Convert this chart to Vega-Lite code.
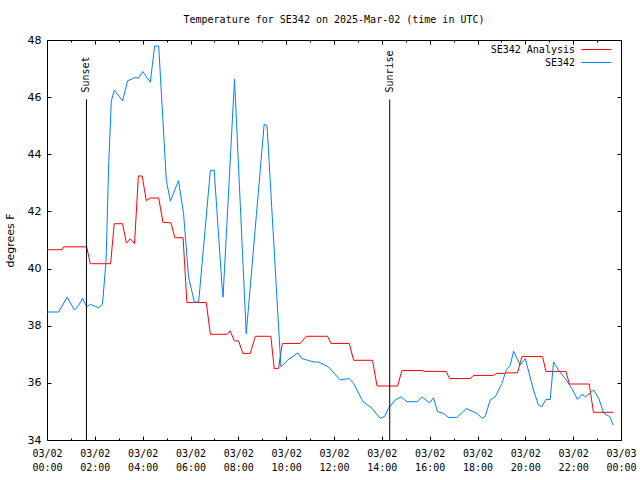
{
  "$schema": "https://vega.github.io/schema/vega-lite/v6.json",
  "width": 574,
  "height": 400,
  "autosize": {"type": "none"},
  "padding": {"left": 47, "top": 40, "right": 19, "bottom": 40},
  "background": "white",
  "title": {
    "text": "Temperature for SE342 on 2025-Mar-02 (time in UTC)",
    "font": "DejaVu Sans Mono",
    "fontSize": 10,
    "fontWeight": "normal",
    "color": "black",
    "anchor": "middle",
    "offset": 9
  },
  "config": {
    "view": {"stroke": "black", "strokeWidth": 1},
    "axis": {"domain": false, "grid": false, "tickColor": "black", "labelColor": "black", "titleColor": "black"}
  },
  "datasets": {
    "temps": [
      {"hour": 0, "temp": 40.66, "series": "SE342 Analysis"},
      {"hour": 0.63, "temp": 40.66, "series": "SE342 Analysis"},
      {"hour": 0.69, "temp": 40.76, "series": "SE342 Analysis"},
      {"hour": 1.66, "temp": 40.76, "series": "SE342 Analysis"},
      {"hour": 1.81, "temp": 40.17, "series": "SE342 Analysis"},
      {"hour": 2.66, "temp": 40.17, "series": "SE342 Analysis"},
      {"hour": 2.81, "temp": 41.57, "series": "SE342 Analysis"},
      {"hour": 3.16, "temp": 41.57, "series": "SE342 Analysis"},
      {"hour": 3.32, "temp": 40.89, "series": "SE342 Analysis"},
      {"hour": 3.48, "temp": 41.04, "series": "SE342 Analysis"},
      {"hour": 3.66, "temp": 40.87, "series": "SE342 Analysis"},
      {"hour": 3.82, "temp": 43.24, "series": "SE342 Analysis"},
      {"hour": 3.98, "temp": 43.24, "series": "SE342 Analysis"},
      {"hour": 4.15, "temp": 42.38, "series": "SE342 Analysis"},
      {"hour": 4.32, "temp": 42.47, "series": "SE342 Analysis"},
      {"hour": 4.67, "temp": 42.47, "series": "SE342 Analysis"},
      {"hour": 4.85, "temp": 41.62, "series": "SE342 Analysis"},
      {"hour": 5.18, "temp": 41.6, "series": "SE342 Analysis"},
      {"hour": 5.35, "temp": 41.08, "series": "SE342 Analysis"},
      {"hour": 5.69, "temp": 41.08, "series": "SE342 Analysis"},
      {"hour": 5.85, "temp": 38.81, "series": "SE342 Analysis"},
      {"hour": 6.66, "temp": 38.81, "series": "SE342 Analysis"},
      {"hour": 6.83, "temp": 37.7, "series": "SE342 Analysis"},
      {"hour": 7.53, "temp": 37.7, "series": "SE342 Analysis"},
      {"hour": 7.66, "temp": 37.82, "series": "SE342 Analysis"},
      {"hour": 7.83, "temp": 37.47, "series": "SE342 Analysis"},
      {"hour": 8.01, "temp": 37.47, "series": "SE342 Analysis"},
      {"hour": 8.19, "temp": 37.03, "series": "SE342 Analysis"},
      {"hour": 8.5, "temp": 37.03, "series": "SE342 Analysis"},
      {"hour": 8.71, "temp": 37.63, "series": "SE342 Analysis"},
      {"hour": 9.36, "temp": 37.63, "series": "SE342 Analysis"},
      {"hour": 9.5, "temp": 36.5, "series": "SE342 Analysis"},
      {"hour": 9.68, "temp": 36.5, "series": "SE342 Analysis"},
      {"hour": 9.84, "temp": 37.38, "series": "SE342 Analysis"},
      {"hour": 10.59, "temp": 37.38, "series": "SE342 Analysis"},
      {"hour": 10.84, "temp": 37.63, "series": "SE342 Analysis"},
      {"hour": 11.73, "temp": 37.63, "series": "SE342 Analysis"},
      {"hour": 11.87, "temp": 37.38, "series": "SE342 Analysis"},
      {"hour": 12.64, "temp": 37.38, "series": "SE342 Analysis"},
      {"hour": 12.82, "temp": 36.79, "series": "SE342 Analysis"},
      {"hour": 13.61, "temp": 36.79, "series": "SE342 Analysis"},
      {"hour": 13.8, "temp": 35.89, "series": "SE342 Analysis"},
      {"hour": 14.66, "temp": 35.89, "series": "SE342 Analysis"},
      {"hour": 14.84, "temp": 36.43, "series": "SE342 Analysis"},
      {"hour": 15.72, "temp": 36.43, "series": "SE342 Analysis"},
      {"hour": 15.77, "temp": 36.4, "series": "SE342 Analysis"},
      {"hour": 16.69, "temp": 36.4, "series": "SE342 Analysis"},
      {"hour": 16.83, "temp": 36.15, "series": "SE342 Analysis"},
      {"hour": 17.7, "temp": 36.15, "series": "SE342 Analysis"},
      {"hour": 17.83, "temp": 36.26, "series": "SE342 Analysis"},
      {"hour": 18.67, "temp": 36.26, "series": "SE342 Analysis"},
      {"hour": 18.81, "temp": 36.33, "series": "SE342 Analysis"},
      {"hour": 19.12, "temp": 36.33, "series": "SE342 Analysis"},
      {"hour": 19.23, "temp": 36.35, "series": "SE342 Analysis"},
      {"hour": 19.67, "temp": 36.35, "series": "SE342 Analysis"},
      {"hour": 19.86, "temp": 36.92, "series": "SE342 Analysis"},
      {"hour": 20.72, "temp": 36.92, "series": "SE342 Analysis"},
      {"hour": 20.86, "temp": 36.4, "series": "SE342 Analysis"},
      {"hour": 21.7, "temp": 36.4, "series": "SE342 Analysis"},
      {"hour": 21.84, "temp": 35.96, "series": "SE342 Analysis"},
      {"hour": 22.67, "temp": 35.96, "series": "SE342 Analysis"},
      {"hour": 22.85, "temp": 34.97, "series": "SE342 Analysis"},
      {"hour": 23.68, "temp": 34.97, "series": "SE342 Analysis"},
      {"hour": 0, "temp": 38.48, "series": "SE342"},
      {"hour": 0.49, "temp": 38.48, "series": "SE342"},
      {"hour": 0.84, "temp": 39.0, "series": "SE342"},
      {"hour": 1.15, "temp": 38.55, "series": "SE342"},
      {"hour": 1.32, "temp": 38.71, "series": "SE342"},
      {"hour": 1.49, "temp": 38.96, "series": "SE342"},
      {"hour": 1.66, "temp": 38.66, "series": "SE342"},
      {"hour": 1.81, "temp": 38.75, "series": "SE342"},
      {"hour": 2.16, "temp": 38.63, "series": "SE342"},
      {"hour": 2.32, "temp": 38.75, "series": "SE342"},
      {"hour": 2.47, "temp": 40.29, "series": "SE342"},
      {"hour": 2.58, "temp": 43.66, "series": "SE342"},
      {"hour": 2.69, "temp": 45.87, "series": "SE342"},
      {"hour": 2.81, "temp": 46.24, "series": "SE342"},
      {"hour": 3.16, "temp": 45.87, "series": "SE342"},
      {"hour": 3.37, "temp": 46.57, "series": "SE342"},
      {"hour": 3.69, "temp": 46.69, "series": "SE342"},
      {"hour": 3.82, "temp": 46.66, "series": "SE342"},
      {"hour": 4.0, "temp": 46.9, "series": "SE342"},
      {"hour": 4.32, "temp": 46.52, "series": "SE342"},
      {"hour": 4.5, "temp": 47.79, "series": "SE342"},
      {"hour": 4.67, "temp": 47.79, "series": "SE342"},
      {"hour": 4.99, "temp": 43.08, "series": "SE342"},
      {"hour": 5.16, "temp": 42.36, "series": "SE342"},
      {"hour": 5.5, "temp": 43.08, "series": "SE342"},
      {"hour": 5.71, "temp": 41.92, "series": "SE342"},
      {"hour": 5.92, "temp": 39.7, "series": "SE342"},
      {"hour": 6.16, "temp": 38.83, "series": "SE342"},
      {"hour": 6.34, "temp": 38.83, "series": "SE342"},
      {"hour": 6.83, "temp": 43.43, "series": "SE342"},
      {"hour": 6.99, "temp": 43.45, "series": "SE342"},
      {"hour": 7.32, "temp": 39.35, "series": "SE342"},
      {"hour": 7.36, "temp": 39.0, "series": "SE342"},
      {"hour": 7.84, "temp": 46.63, "series": "SE342"},
      {"hour": 8.33, "temp": 37.72, "series": "SE342"},
      {"hour": 9.08, "temp": 45.06, "series": "SE342"},
      {"hour": 9.2, "temp": 45.0, "series": "SE342"},
      {"hour": 9.78, "temp": 36.56, "series": "SE342"},
      {"hour": 10.06, "temp": 36.79, "series": "SE342"},
      {"hour": 10.49, "temp": 37.05, "series": "SE342"},
      {"hour": 10.66, "temp": 36.85, "series": "SE342"},
      {"hour": 11.15, "temp": 36.73, "series": "SE342"},
      {"hour": 11.35, "temp": 36.73, "series": "SE342"},
      {"hour": 11.77, "temp": 36.56, "series": "SE342"},
      {"hour": 12.26, "temp": 36.1, "series": "SE342"},
      {"hour": 12.64, "temp": 36.15, "series": "SE342"},
      {"hour": 12.82, "temp": 35.98, "series": "SE342"},
      {"hour": 13.21, "temp": 35.34, "series": "SE342"},
      {"hour": 13.59, "temp": 35.11, "series": "SE342"},
      {"hour": 13.93, "temp": 34.76, "series": "SE342"},
      {"hour": 14.11, "temp": 34.82, "series": "SE342"},
      {"hour": 14.28, "temp": 35.11, "series": "SE342"},
      {"hour": 14.56, "temp": 35.4, "series": "SE342"},
      {"hour": 14.8, "temp": 35.51, "series": "SE342"},
      {"hour": 15.05, "temp": 35.34, "series": "SE342"},
      {"hour": 15.47, "temp": 35.34, "series": "SE342"},
      {"hour": 15.68, "temp": 35.51, "series": "SE342"},
      {"hour": 16.0, "temp": 35.3, "series": "SE342"},
      {"hour": 16.16, "temp": 35.48, "series": "SE342"},
      {"hour": 16.33, "temp": 34.99, "series": "SE342"},
      {"hour": 16.58, "temp": 34.93, "series": "SE342"},
      {"hour": 16.79, "temp": 34.79, "series": "SE342"},
      {"hour": 17.14, "temp": 34.79, "series": "SE342"},
      {"hour": 17.53, "temp": 35.1, "series": "SE342"},
      {"hour": 17.98, "temp": 34.93, "series": "SE342"},
      {"hour": 18.19, "temp": 34.76, "series": "SE342"},
      {"hour": 18.32, "temp": 34.82, "series": "SE342"},
      {"hour": 18.53, "temp": 35.4, "series": "SE342"},
      {"hour": 18.74, "temp": 35.51, "series": "SE342"},
      {"hour": 19.02, "temp": 35.98, "series": "SE342"},
      {"hour": 19.2, "temp": 36.44, "series": "SE342"},
      {"hour": 19.37, "temp": 36.62, "series": "SE342"},
      {"hour": 19.51, "temp": 37.11, "series": "SE342"},
      {"hour": 19.79, "temp": 36.62, "series": "SE342"},
      {"hour": 20.0, "temp": 36.85, "series": "SE342"},
      {"hour": 20.34, "temp": 35.75, "series": "SE342"},
      {"hour": 20.55, "temp": 35.22, "series": "SE342"},
      {"hour": 20.69, "temp": 35.16, "series": "SE342"},
      {"hour": 20.86, "temp": 35.42, "series": "SE342"},
      {"hour": 21.04, "temp": 35.42, "series": "SE342"},
      {"hour": 21.18, "temp": 36.73, "series": "SE342"},
      {"hour": 21.39, "temp": 36.44, "series": "SE342"},
      {"hour": 21.67, "temp": 36.15, "series": "SE342"},
      {"hour": 21.95, "temp": 35.8, "series": "SE342"},
      {"hour": 22.18, "temp": 35.42, "series": "SE342"},
      {"hour": 22.37, "temp": 35.6, "series": "SE342"},
      {"hour": 22.51, "temp": 35.51, "series": "SE342"},
      {"hour": 22.86, "temp": 35.75, "series": "SE342"},
      {"hour": 23.07, "temp": 35.46, "series": "SE342"},
      {"hour": 23.28, "temp": 34.93, "series": "SE342"},
      {"hour": 23.53, "temp": 34.82, "series": "SE342"},
      {"hour": 23.68, "temp": 34.52, "series": "SE342"}
    ],
    "events": [
      {"hour": 1.65, "label": "Sunset"},
      {"hour": 14.33, "label": "Sunrise"}
    ]
  },
  "layer": [
    {
      "data": {"name": "temps"},
      "mark": {"type": "line", "strokeWidth": 1, "interpolate": "linear"},
      "encoding": {
        "x": {
          "field": "hour", "type": "quantitative",
          "scale": {"domain": [0, 24], "nice": false, "zero": false},
          "axis": {
            "orient": "bottom", "title": null,
            "values": [0,1,2,3,4,5,6,7,8,9,10,11,12,13,14,15,16,17,18,19,20,21,22,23,24],
            "tickSize": {"condition": {"test": "datum.value % 2 == 0", "value": -4}, "value": -2},
            "labelExpr": "datum.value % 2 != 0 ? '' : (datum.value == 24 ? ['03/03', '00:00'] : ['03/02', (datum.value < 10 ? '0' : '') + datum.value + ':00'])",
            "labelFont": "DejaVu Sans Mono", "labelFontSize": 10, "labelLineHeight": 14,
            "labelPadding": 12, "labelFlush": false, "labelOverlap": false, "labelBaseline": "top"
          }
        },
        "y": {
          "field": "temp", "type": "quantitative",
          "scale": {"domain": [34, 48], "nice": false, "zero": false},
          "axis": {
            "orient": "left", "title": "degrees F",
            "values": [34,36,38,40,42,44,46,48],
            "tickSize": -4, "labelPadding": 10,
            "labelFont": "DejaVu Sans", "labelFontSize": 11,
            "titleFont": "DejaVu Sans", "titleFontSize": 11, "titleFontWeight": "normal",
            "titleX": -37, "titleY": 200, "titleAngle": 270, "titleBaseline": "middle", "titleAlign": "center"
          }
        },
        "color": {
          "field": "series", "type": "nominal",
          "scale": {"domain": ["SE342 Analysis", "SE342"], "range": ["#ff0000", "#0080ff"]},
          "legend": {
            "title": null, "orient": "none", "legendX": 543.7, "legendY": 4, "padding": 0,
            "symbolType": "M-3,0H3", "symbolSize": 100, "symbolStrokeWidth": 1, "symbolFillColor": "transparent",
            "labelAlign": "right", "labelOffset": -26.7,
            "labelFont": "DejaVu Sans Mono", "labelFontSize": 10, "labelColor": "black",
            "rowPadding": 2
          }
        }
      }
    },
    {
      "data": {"name": "events"},
      "mark": {"type": "rule", "color": "black", "strokeWidth": 1},
      "encoding": {
        "x": {
          "field": "hour", "type": "quantitative",
          "axis": {
            "orient": "top", "title": null, "labels": false,
            "values": [0,1,2,3,4,5,6,7,8,9,10,11,12,13,14,15,16,17,18,19,20,21,22,23,24],
            "tickSize": {"condition": {"test": "datum.value % 2 == 0", "value": -4}, "value": -2}
          }
        },
        "y": {
          "datum": 34, "type": "quantitative",
          "axis": {"orient": "right", "title": null, "labels": false, "values": [34,36,38,40,42,44,46,48], "tickSize": -4}
        },
        "y2": {"datum": 45.92}
      }
    },
    {
      "data": {"name": "events"},
      "mark": {"type": "text", "angle": 270, "align": "left", "baseline": "middle", "font": "DejaVu Sans Mono", "fontSize": 10, "color": "black", "dx": 0},
      "encoding": {
        "x": {"field": "hour", "type": "quantitative", "axis": null},
        "y": {"datum": 46.16, "type": "quantitative", "axis": null},
        "text": {"field": "label"}
      }
    }
  ],
  "resolve": {"axis": {"x": "independent", "y": "independent"}}
}
